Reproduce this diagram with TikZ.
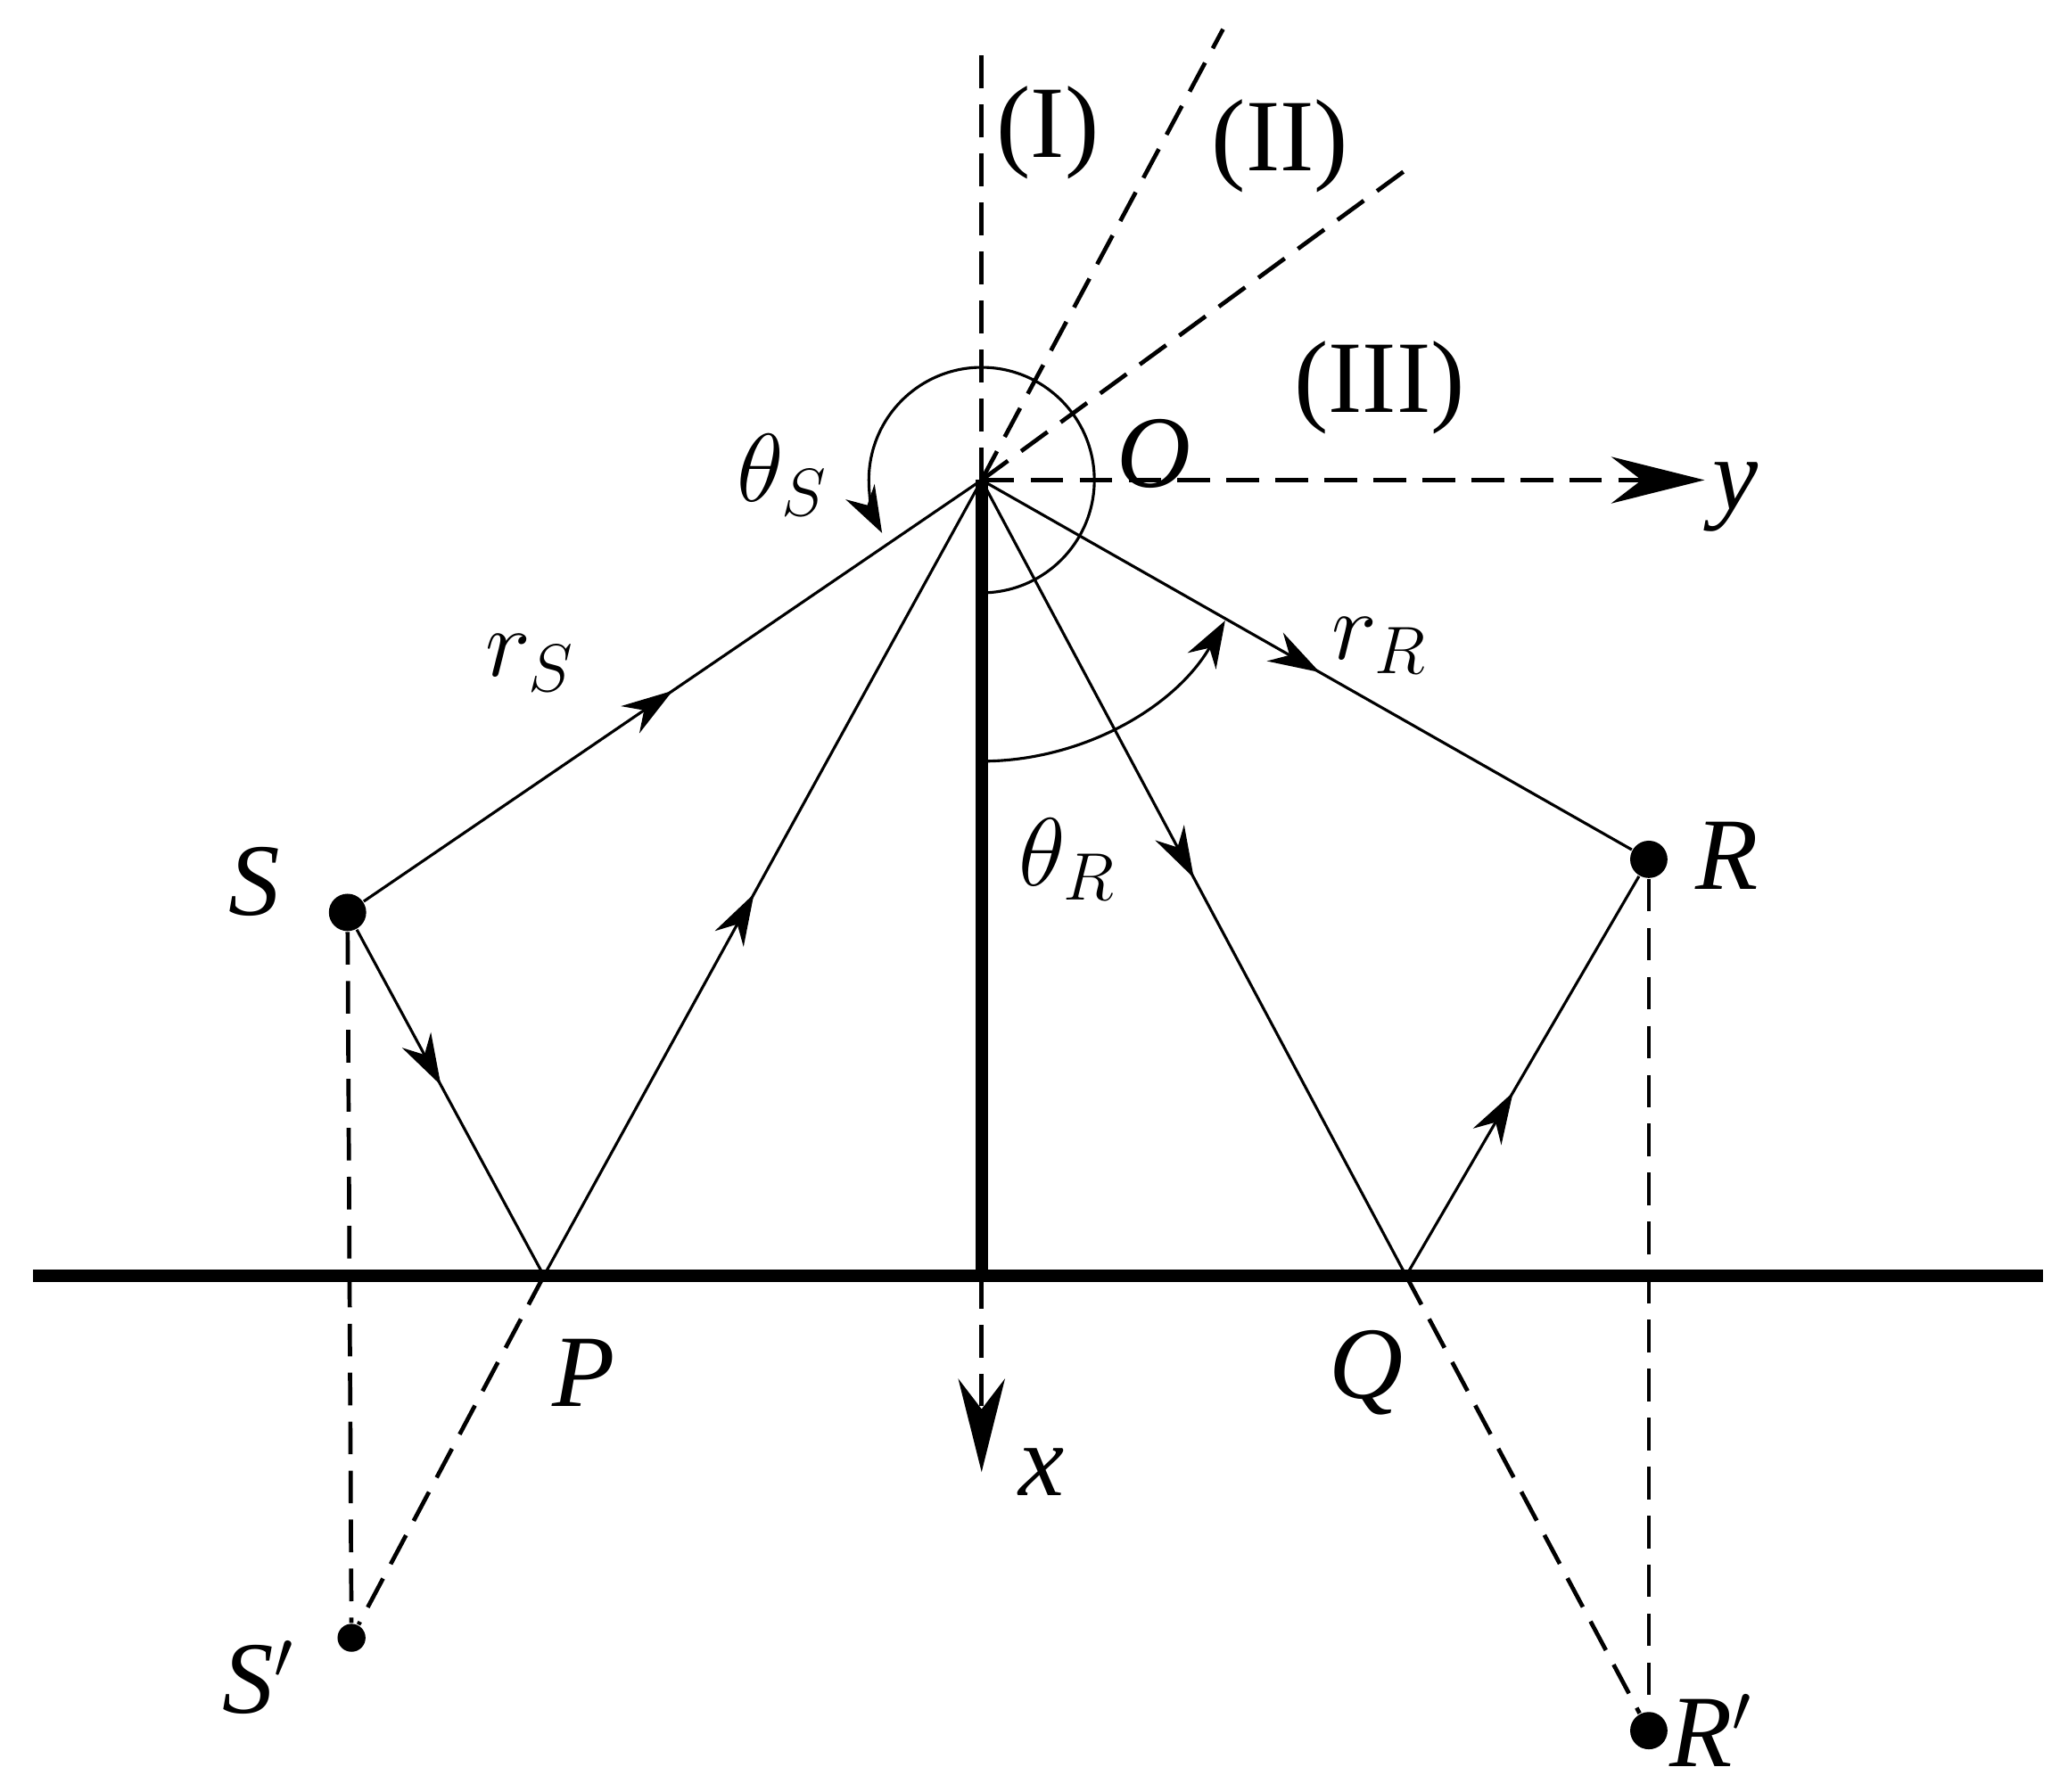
\documentclass[tikz,border=0pt]{standalone}
\usepackage{fontspec}
\setmainfont{Liberation Serif}
\usetikzlibrary{arrows.meta,decorations.markings}
\begin{document}
\begin{tikzpicture}[x=0.01cm,y=-0.01cm,
 thin line/.style={line width=0.6pt},
 thick line/.style={line width=2.6pt},
 dline/.style={line width=0.9pt,dash pattern=on 7pt off 3.5pt},
 midarrow/.style={postaction={decorate},decoration={markings,mark=at position #1 with {\arrow{Stealth[length=11pt,width=7pt]}}}},
 lab/.style={font=\fontsize{22}{26}\selectfont\itshape},
 rlab/.style={font=\fontsize{22}{26}\selectfont},
 dot/.style={circle,fill=black,inner sep=0pt,minimum size=#1}]
\useasboundingbox (0,0) rectangle (1559,1351);
\coordinate (O) at (740,362);
\coordinate (W) at (740,962);
\coordinate (P) at (410,962);
\coordinate (Q) at (1060,962);
\node[dot=8pt] (S) at (262,688) {};
\node[dot=8pt] (R) at (1243,648) {};
\node[dot=6pt] (Sp) at (265,1235) {};
\node[dot=8pt] (Rp) at (1243,1305) {};
% ground and wall
\draw[thick line] (25,962) -- (1540,962);
\draw[thick line] (O) -- (W);
% dashed lines
\draw[dline] (O) -- (740,30);
\draw[dline] (O) -- (922,22);
\draw[dline] (O) -- (1060,128);
\draw[dline,-{Stealth[length=20pt,width=10pt]}] (O) -- (1285,362);
\draw[dline,-{Stealth[length=20pt,width=10pt]}] (W) -- (740,1110);
\draw[dline] (S) -- (Sp);
\draw[dline] (R) -- (Rp);
\draw[dline] (P) -- (Sp);
\draw[dline] (Q) -- (Rp);
% rays
\draw[thin line,midarrow=0.5] (S) -- (O);
\draw[thin line,midarrow=0.45] (S) -- (P);
\draw[thin line,midarrow=0.48] (P) -- (O);
\draw[thin line,midarrow=0.5] (O) -- (Q);
\draw[thin line,midarrow=0.46] (Q) -- (R);
\draw[thin line,midarrow=0.52] (O) -- (R);
% angle arcs (note y flipped: angles measured clockwise on screen)
\draw[thin line,-{Stealth[length=10pt,width=7pt]}] ([shift={(90:85)}]O) arc[start angle=90,end angle=-208,radius=85];
\draw[thin line,-{Stealth[length=10pt,width=7pt]}] ([shift={(90:212)}]O) arc[start angle=90,end angle=30,radius=212];
% labels
\node[rlab] (l1) at (790,100) {(I)};
\node[rlab] (l2) at (965,110) {(II)};
\node[rlab] (l3) at (1040,292) {(III)};
\node[lab] (lO) at (870,342) {O};
\node[lab] (ly) at (1308,375) {y};
\node[lab] (lts) at (590,358) {$\theta_S$};
\node[lab] (lrs) at (400,500) {$r_S$};
\node[lab] (lrr) at (1040,487) {$r_R$};
\node[lab] (ltr) at (805,648) {$\theta_R$};
\node[lab] (lS) at (192,665) {S};
\node[lab] (lR) at (1302,645) {R};
\node[lab] (lP) at (440,1035) {P};
\node[lab] (lQ) at (1030,1035) {Q};
\node[lab] (lx) at (785,1110) {x};
\node[lab] (lSp) at (195,1265) {S$'$};
\node[lab] (lRp) at (1290,1305) {R$'$};
\end{tikzpicture}
\end{document}
